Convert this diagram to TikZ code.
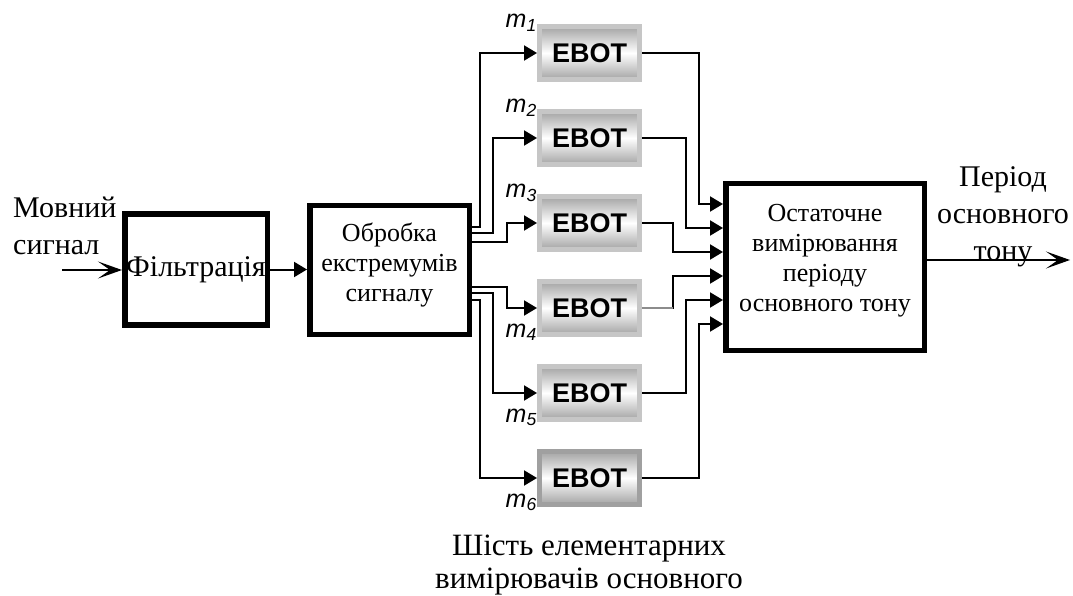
\documentclass[tikz,border=0pt]{standalone}
\usepackage{fontspec}
\setmainfont{Liberation Serif}
\setsansfont{Liberation Sans}
\usetikzlibrary{calc,arrows.meta,positioning}
\definecolor{rim}{HTML}{C6C6C6}
\definecolor{rimdark}{HTML}{A0A0A0}
\definecolor{steel}{HTML}{A4A4A4}
\definecolor{wire}{HTML}{8C8C8C}

\begin{document}
\begin{tikzpicture}[x=1pt, y=-1pt,
  block/.style={draw, line width=5.5pt, inner sep=0pt},
  boxtext/.style={align=center, inner sep=0pt, font=\fontsize{26}{30}\selectfont},
  ebot/.style={line width=5pt, minimum width=100pt, minimum height=53pt,
    top color=steel, bottom color=steel, middle color=white,
    font=\sffamily\bfseries\fontsize{27}{30}\selectfont},
  mlab/.style={inner sep=0pt, font=\sffamily\itshape\fontsize{25}{25}\selectfont},
  link/.style={line width=2pt, -{Triangle[length=13pt,width=15pt]}},
  feed/.style={line width=2pt, -{Stealth[length=24pt,width=17pt,inset=12pt]}},
  txt/.style={align=center, inner sep=0pt, font=\fontsize{30}{37}\selectfont}]

  \useasboundingbox (0,0) rectangle (1073,596);

  % main blocks
  \node[block, minimum width=142.5pt, minimum height=110.5pt] (filt) at (196,269.5) {};
  \node[boxtext, font=\fontsize{30}{30}\selectfont] (filttext) at (filt) {Фільтрація};
  \node[block, minimum width=159.5pt, minimum height=128.5pt] (obr) at (389.5,270) {};
  \node[boxtext] (obrtext) at ($(obr)+(0,-5)$) {Обробка\\екстремумів\\сигналу};
  \node[block, minimum width=198.5pt, minimum height=166.5pt] (fin) at (825,267) {};
  \node[boxtext] (fintext) at ($(fin)+(0,-6)$) {Остаточне\\вимірювання\\періоду\\основного тону};

  % six measurers
  \foreach \i/\y/\rc in {1/53/rim, 2/138/rim, 3/223/rim, 4/308/rim, 5/393/rim, 6/478/rimdark}
    \node[ebot, draw=\rc] (e\i) at (589.5,\y) {EBOT};
  \foreach \i in {1,2,3}
    \node[mlab, anchor=base east] (m\i) at ($(e\i.north west)+(0,4)$) {m\textsubscript{\i}};
  \foreach \i in {4,5,6}
    \node[mlab, anchor=base east] (m\i) at (e\i.south west) {m\textsubscript{\i}};

  % fan out / fan in
  \foreach \i/\dy/\off in {1/-43/57, 2/-37/44, 3/-28/30, 4/17/30, 5/23/44, 6/30/57}
    \draw[link] ($(obr.east)+(0,\dy)$) -| ([xshift=-\off pt]e\i.west) -- (e\i.west);
  \foreach \i/\dy/\off in {1/-63/24, 2/-39/37, 3/-15/50, 4/9/50, 5/33/37, 6/57/24} {
    \coordinate (turn\i) at ($(fin.west)+(-\off,\dy)$);
    \draw[link] (e\i.east) -| (turn\i) -- ($(fin.west)+(0,\dy)$);
  }
  \draw[wire, line width=2pt] (e4.east) -- (e4.east -| turn4);

  % in and out
  \coordinate (src) at (62,270);
  \coordinate (sink) at (1070,260);
  \draw[feed] (src) -- (filt.west |- src);
  \draw[link] (filt.east) -- (obr.west |- filt.east);
  \draw[feed] (fin.east |- sink) -- (sink);

  \node[txt, align=left, anchor=west] (srclab) at (13,225.5) {Мовний\\сигнал};
  \node[txt] (outlab) at (1003,217) {Період\\основного\\тону};
  \node[txt, font=\fontsize{31}{33}\selectfont] (banklab) at (589,565.5) {Шість елементарних\\вимірювачів основного};
\end{tikzpicture}
\end{document}
